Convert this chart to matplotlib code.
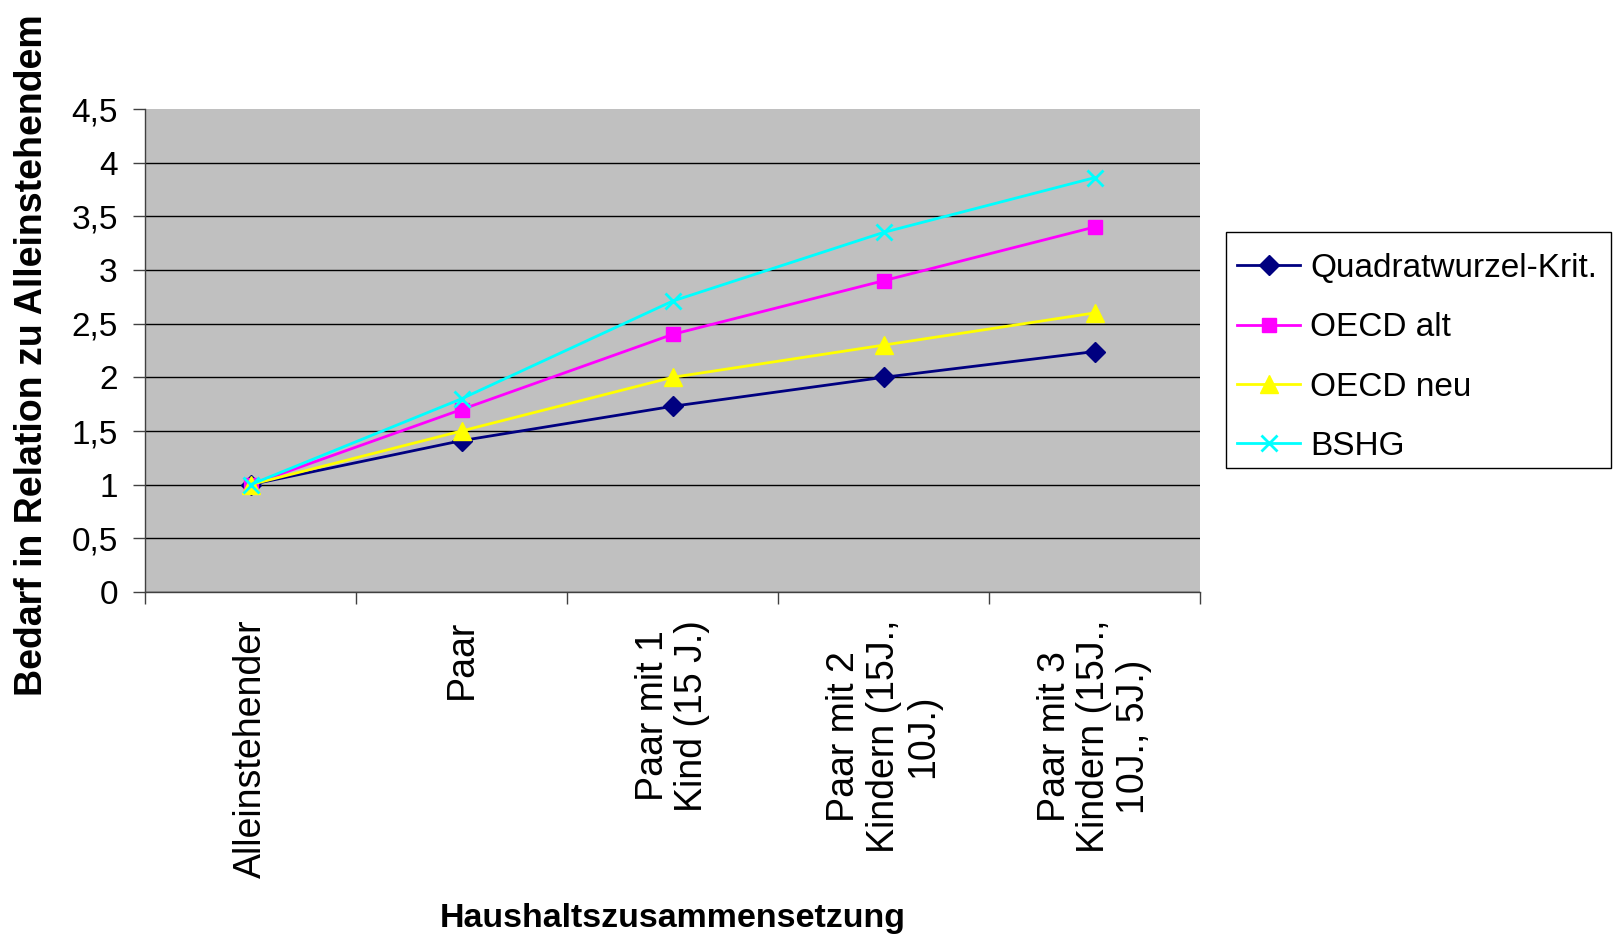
import matplotlib
matplotlib.use("Agg")
import matplotlib.pyplot as plt
from matplotlib.patches import Rectangle
import numpy as np

plt.rcParams['font.family'] = ['Liberation Sans', 'DejaVu Sans']

# Haushaltstypen
kategorien = [
    "Alleinstehender",
    "Paar",
    "Paar mit 1\nKind (15 J.)",
    "Paar mit 2\nKindern (15J.,\n10J.)",
    "Paar mit 3\nKindern (15J.,\n10J., 5J.)",
]

# Äquivalenzskalen
quadratwurzel = [1.0, 1.41, 1.73, 2.0, 2.24]
oecd_alt = [1.0, 1.7, 2.4, 2.9, 3.4]
oecd_neu = [1.0, 1.5, 2.0, 2.3, 2.6]
bshg = [1.0, 1.8, 2.71, 3.35, 3.86]

y_ticks = [0, 0.5, 1, 1.5, 2, 2.5, 3, 3.5, 4, 4.5]
y_ticklabels = ["0", "0,5", "1", "1,5", "2", "2,5", "3", "3,5", "4", "4,5"]

W, H = 1614, 944
fig = plt.figure(figsize=(W / 100, H / 100), dpi=100)
ax = fig.add_axes([145 / W, 1 - 592 / H, 1055 / W, 483 / H])
ax.set_facecolor('#C0C0C0')

x = np.arange(len(kategorien))

ax.plot(x, quadratwurzel, color='#000080', lw=2, marker='D', ms=10,
        label='Quadratwurzel-Krit.')
ax.plot(x, oecd_alt, color='#FF00FF', lw=2, marker='s', ms=10,
        label='OECD alt')
ax.plot(x, oecd_neu, color='#FFFF00', lw=2, marker='^', ms=13,
        label='OECD neu')
ax.plot(x, bshg, color='#00FFFF', lw=2, marker='x', ms=12, mew=2,
        label='BSHG')

ax.set_xlim(-0.5, len(kategorien) - 0.5)
ax.set_ylim(0, 4.5)

ax.set_yticks(y_ticks)
ax.set_yticklabels(y_ticklabels, fontsize=24)
ax.yaxis.grid(True, color='black', lw=1)
ax.yaxis.get_gridlines()[-1].set_visible(False)
ax.set_axisbelow(True)

ax.set_xticks(x)
ax.set_xticklabels(kategorien, rotation=90, multialignment='center',
                   va='top', ha='center', linespacing=1.12, fontsize=27)
ax.set_xticks(np.arange(-0.5, len(kategorien)), minor=True)
ax.tick_params(axis='x', which='major', length=0, pad=20)
ax.tick_params(axis='x', which='minor', length=8.6, width=1, color='#404040')
ax.tick_params(axis='y', length=8.6, width=1, color='#404040', pad=11)

for s in ['top', 'right']:
    ax.spines[s].set_visible(False)
for s in ['left', 'bottom']:
    ax.spines[s].set_color('#404040')
    ax.spines[s].set_linewidth(1)

ax.set_ylabel('Bedarf in Relation zu Alleinstehendem', fontsize=27,
              fontweight='bold', va='center', ha='center')
ax.yaxis.set_label_coords(-0.107, 0.49)
ax.set_xlabel('Haushaltszusammensetzung', fontsize=24.5, fontweight='bold',
              va='center', ha='center')
ax.xaxis.set_label_coords(0.5, -0.675)

# Legende mit eigenem Rahmen
leg = ax.legend(loc='upper left', bbox_to_anchor=(1237 / W, 1 - 253 / H),
                bbox_transform=fig.transFigure, borderaxespad=0, borderpad=0,
                fontsize=24, frameon=False, handlelength=1.9,
                handletextpad=0.3, labelspacing=0.85)
fig.add_artist(Rectangle((1226 / W, 1 - 468 / H), 385 / W, 236 / H,
                         transform=fig.transFigure, fill=False,
                         ec='black', lw=1))

fig.savefig('out.png', dpi=100)
